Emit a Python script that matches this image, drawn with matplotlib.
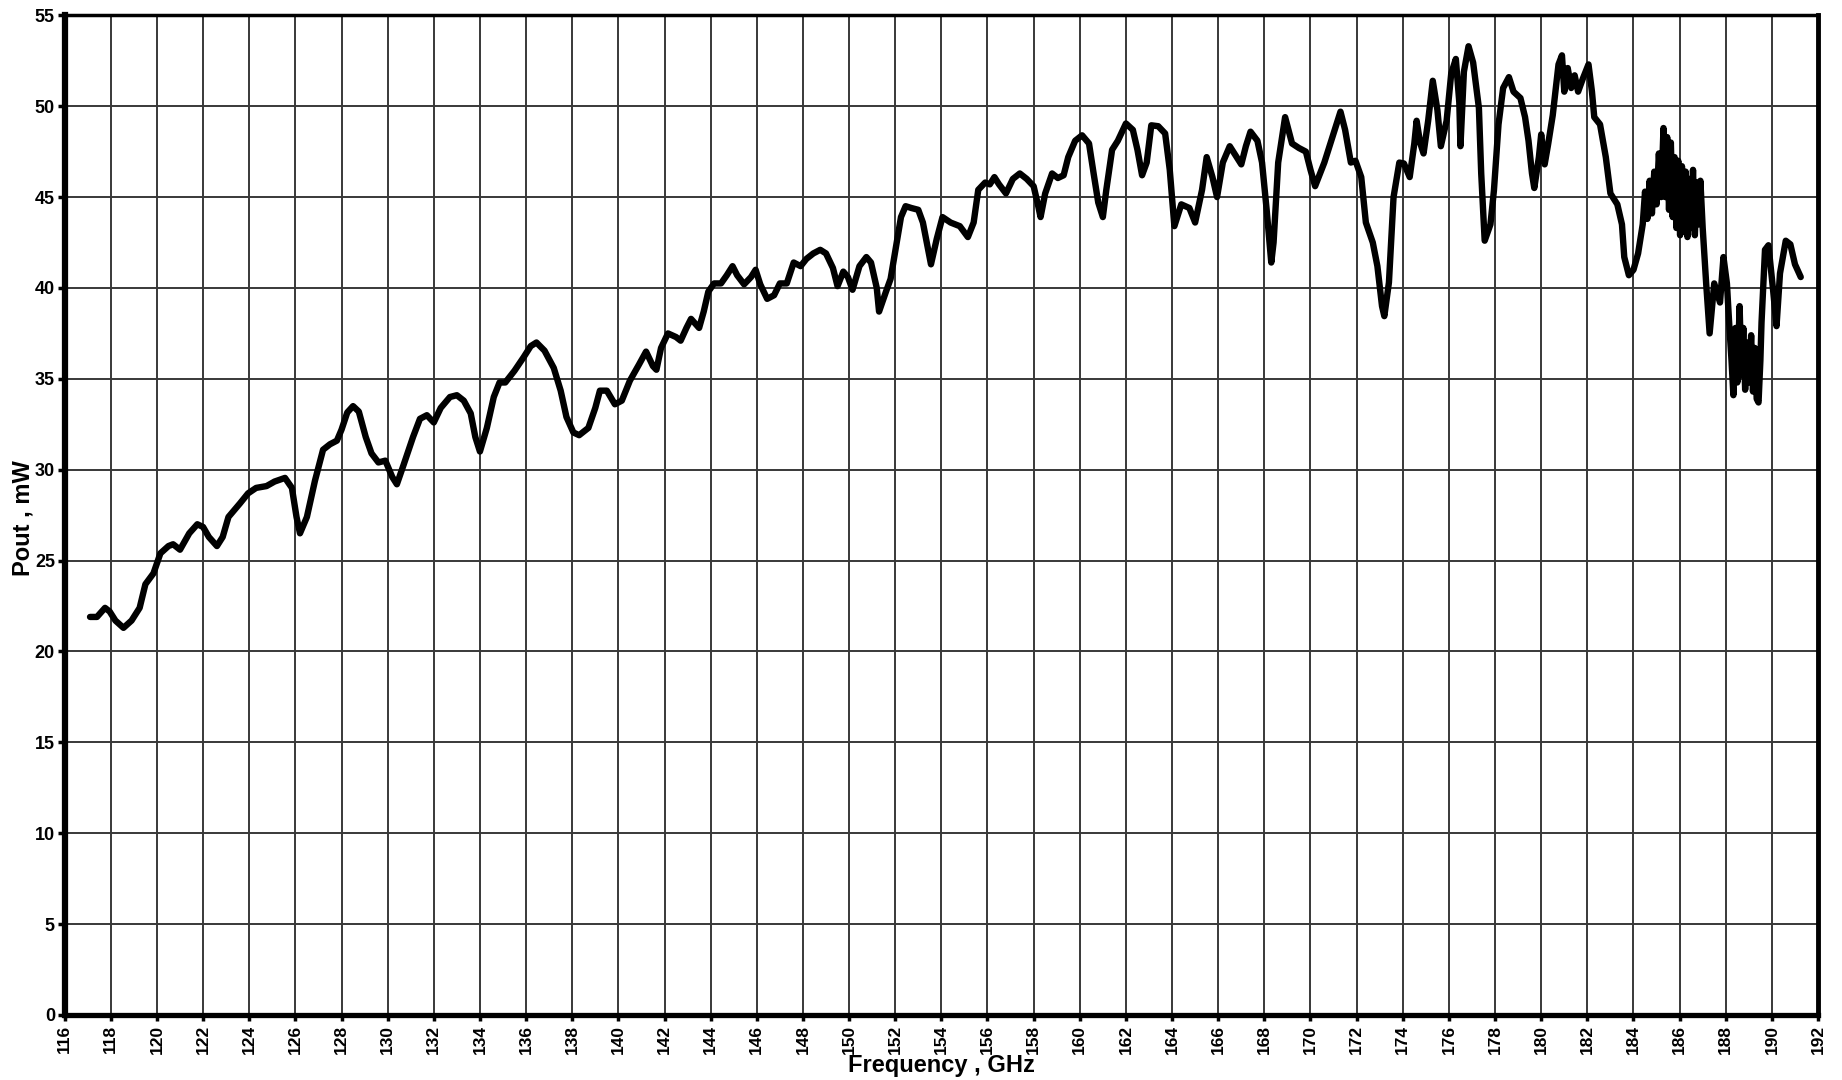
import matplotlib
matplotlib.use('Agg')
import matplotlib.pyplot as plt

# Frequency (GHz) and output power (mW)
freq = [117.1, 117.4, 117.75, 117.95, 118.2, 118.55, 118.9, 119.25, 119.5, 119.85,
        120.15, 120.5, 120.7, 121.0, 121.4, 121.75, 122.0, 122.25, 122.6, 122.85,
        123.1, 123.6, 123.95, 124.3, 124.75, 125.1, 125.55, 125.85, 126.05, 126.2,
        126.5, 126.85, 127.2, 127.5, 127.8, 128.0, 128.25, 128.5, 128.75, 129.05,
        129.3, 129.6, 129.9, 130.2, 130.4, 130.7, 131.1, 131.4, 131.7, 132.0,
        132.3, 132.7, 133.0, 133.3, 133.6, 133.8, 134.0, 134.3, 134.6, 134.85,
        135.1, 135.5, 135.9, 136.2, 136.45, 136.8, 137.2, 137.5, 137.75, 138.05,
        138.3, 138.7, 139.0, 139.2, 139.5, 139.85, 140.15, 140.5, 140.9, 141.2,
        141.5, 141.65, 141.85, 142.15, 142.5, 142.7, 142.95, 143.15, 143.5, 143.7,
        143.9, 144.15, 144.45, 144.7, 144.95, 145.15, 145.45, 145.75, 145.95, 146.15,
        146.45, 146.75, 147.0, 147.3, 147.6, 147.9, 148.15, 148.45, 148.75, 149.0,
        149.3, 149.5, 149.75, 149.95, 150.15, 150.45, 150.75, 150.95, 151.2, 151.3,
        151.6, 151.8, 152.0, 152.25, 152.45, 152.7, 153.0, 153.2, 153.4, 153.55,
        153.8, 154.05, 154.4, 154.8, 155.15, 155.4, 155.6, 155.9, 156.1, 156.3,
        156.5, 156.8, 157.1, 157.4, 157.7, 158.0, 158.2, 158.3, 158.5, 158.8,
        159.05, 159.3, 159.5, 159.8, 160.1, 160.4, 160.6, 160.8, 161.0, 161.15,
        161.4, 161.65, 162.0, 162.3, 162.5, 162.7, 162.9, 163.1, 163.4, 163.7,
        163.9, 164.1, 164.4, 164.75, 165.0, 165.3, 165.5, 165.75, 165.95, 166.2,
        166.5, 166.8, 167.0, 167.2, 167.4, 167.7, 167.9, 168.1, 168.3, 168.4,
        168.6, 168.9, 169.2, 169.5, 169.8, 170.0, 170.2, 170.6, 170.95, 171.3,
        171.5, 171.75, 171.95, 172.2, 172.4, 172.7, 172.9, 173.1, 173.2, 173.4,
        173.6, 173.85, 174.05, 174.3, 174.5, 174.6, 174.75, 174.9, 175.1, 175.3,
        175.5, 175.65, 175.9, 176.1, 176.3, 176.45, 176.5, 176.65, 176.85, 177.05,
        177.3, 177.4, 177.55, 177.8, 177.95, 178.15, 178.35, 178.6, 178.8, 179.1,
        179.3, 179.45, 179.6, 179.7, 179.9, 180.0, 180.15, 180.3, 180.5, 180.75,
        180.9, 181.0, 181.15, 181.3, 181.45, 181.6, 181.8, 182.05, 182.2, 182.3,
        182.55, 182.8, 183.0, 183.3, 183.5, 183.6, 183.8, 184.0, 184.2, 184.4,
        184.5, 184.6, 184.7, 184.8, 184.9, 185.0, 185.1, 185.2, 185.3, 185.38,
        185.46, 185.54, 185.62, 185.7, 185.78, 185.86, 185.94, 186.02, 186.1, 186.18,
        186.26, 186.34, 186.42, 186.5, 186.58, 186.66, 186.74, 186.82, 186.9, 187.0,
        187.15, 187.3, 187.5, 187.75, 187.9, 188.05, 188.15, 188.25, 188.33, 188.42,
        188.5, 188.6, 188.68, 188.76, 188.84, 188.92, 189.0, 189.1, 189.18, 189.26,
        189.34, 189.42, 189.5, 189.55, 189.7, 189.85, 190.05, 190.2, 190.35, 190.6,
        190.8, 191.0, 191.25]

pout = [21.9, 21.9, 22.4, 22.2, 21.7, 21.3, 21.7, 22.4, 23.7, 24.3,
        25.4, 25.8, 25.9, 25.6, 26.5, 27.0, 26.85, 26.3, 25.8, 26.3,
        27.4, 28.15, 28.7, 29.0, 29.1, 29.35, 29.55, 29.0, 27.4, 26.5,
        27.4, 29.4, 31.1, 31.4, 31.6, 32.2, 33.15, 33.5, 33.2, 31.8,
        30.9, 30.4, 30.5, 29.6, 29.2, 30.3, 31.8, 32.8, 33.0, 32.6,
        33.4, 34.0, 34.1, 33.8, 33.1, 31.8, 31.0, 32.3, 34.0, 34.8,
        34.8, 35.45, 36.2, 36.8, 37.0, 36.55, 35.6, 34.35, 32.9, 32.05,
        31.9, 32.3, 33.4, 34.35, 34.35, 33.6, 33.8, 34.9, 35.8, 36.5,
        35.7, 35.5, 36.7, 37.5, 37.3, 37.1, 37.8, 38.3, 37.8, 38.7,
        39.8, 40.25, 40.25, 40.7, 41.2, 40.7, 40.2, 40.6, 41.0, 40.2,
        39.4, 39.6, 40.25, 40.25, 41.4, 41.2, 41.6, 41.9, 42.1, 41.9,
        41.1, 40.1, 40.9, 40.6, 39.9, 41.2, 41.7, 41.4, 40.0, 38.7,
        39.8, 40.5, 42.0, 43.9, 44.5, 44.4, 44.3, 43.6, 42.3, 41.3,
        42.7, 43.9, 43.6, 43.4, 42.8, 43.6, 45.4, 45.8, 45.7, 46.1,
        45.7, 45.2, 46.0, 46.3, 46.0, 45.6, 44.5, 43.9, 45.2, 46.3,
        46.05, 46.2, 47.2, 48.1, 48.4, 47.95, 46.3, 44.7, 43.9, 45.4,
        47.6, 48.1, 49.05, 48.7, 47.6, 46.2, 46.9, 48.95, 48.9, 48.5,
        46.5, 43.4, 44.6, 44.4, 43.6, 45.4, 47.2, 46.1, 45.0, 46.9,
        47.8, 47.2, 46.8, 47.8, 48.6, 48.1, 46.9, 44.3, 41.4, 42.5,
        46.9, 49.4, 47.95, 47.7, 47.5, 46.5, 45.6, 46.9, 48.3, 49.7,
        48.7, 46.9, 47.0, 46.1, 43.6, 42.5, 41.2, 39.0, 38.45, 40.3,
        45.0, 46.9, 46.85, 46.1, 47.95, 49.2, 48.0, 47.4, 49.2, 51.4,
        49.8, 47.8, 49.2, 51.8, 52.6, 50.2, 47.8, 51.9, 53.3, 52.4,
        49.9, 46.3, 42.6, 43.5, 45.35, 49.0, 51.0, 51.6, 50.8, 50.45,
        49.4, 48.1, 46.3, 45.5, 47.2, 48.45, 46.8, 47.9, 49.5, 52.3,
        52.8, 50.8, 52.1, 51.0, 51.7, 50.8, 51.5, 52.3, 50.8, 49.4,
        49.0, 47.2, 45.2, 44.6, 43.5, 41.7, 40.7, 41.0, 41.9, 43.5,
        45.3, 43.8, 45.9, 44.1, 46.4, 44.6, 47.4, 45.0, 48.8, 45.0,
        48.3, 44.3, 48.0, 43.9, 47.2, 43.3, 47.0, 42.9, 46.7, 43.1,
        46.4, 42.8, 46.0, 43.3, 46.5, 42.9, 45.8, 43.5, 45.9, 43.3,
        40.25, 37.5, 40.25, 39.2, 41.7, 40.25, 38.0, 36.0, 34.1, 37.8,
        34.8, 39.0, 35.2, 37.8, 34.4, 37.0, 34.8, 37.4, 34.3, 36.7,
        33.9, 33.7, 36.0, 38.1, 42.1, 42.35, 39.9, 37.9, 40.8, 42.6,
        42.4, 41.3, 40.6]

x_ticks = list(range(116, 193, 2))
y_ticks = list(range(0, 56, 5))

plt.rcParams['font.family'] = ['Liberation Sans', 'DejaVu Sans']
plt.rcParams['font.weight'] = 'bold'

fig = plt.figure(figsize=(18.42, 10.80), dpi=100)
ax = fig.add_axes([0.0351, 0.0602, 0.9519, 0.9256])

ax.plot(freq, pout, color='black', linewidth=4.6, solid_joinstyle='round',
        solid_capstyle='round', zorder=3)

ax.set_xlim(116, 192)
ax.set_ylim(0, 55)
ax.set_xticks(x_ticks)
ax.set_yticks(y_ticks)
ax.set_xticklabels([str(t) for t in x_ticks], rotation=90, fontsize=12.5,
                   fontweight='bold')
ax.set_yticklabels([str(t) for t in y_ticks], fontsize=13, fontweight='bold')
ax.tick_params(axis='x', length=4, width=2.5, pad=3)
ax.tick_params(axis='y', length=5, width=2.5, pad=2)

ax.grid(True, color='#383838', linewidth=1.4)
ax.set_axisbelow(True)

for side, lw in [('left', 4.5), ('bottom', 3.8), ('top', 2.5), ('right', 3.5)]:
    ax.spines[side].set_linewidth(lw)
    ax.spines[side].set_color('black')

ax.set_ylabel('Pout , mW', fontsize=17, fontweight='bold')
ax.yaxis.set_label_coords(-0.017, 0.497)
ax.set_xlabel('Frequency , GHz', fontsize=17, fontweight='bold')
ax.xaxis.set_label_coords(0.5, -0.039)

fig.savefig('out.png', dpi=100)
